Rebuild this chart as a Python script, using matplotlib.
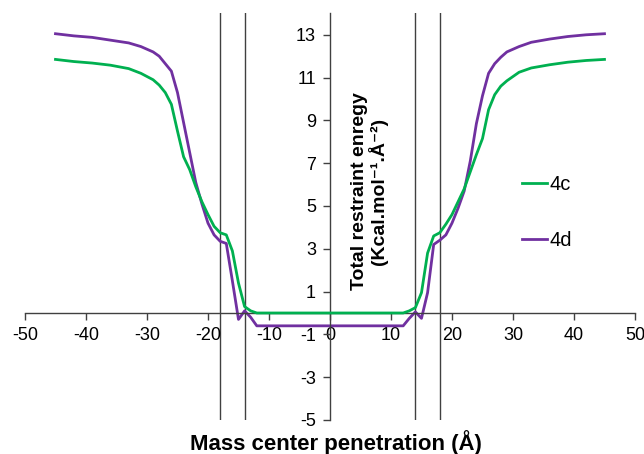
import matplotlib.pyplot as plt

plt.rcParams['font.family'] = ['Liberation Sans', 'DejaVu Sans']
plt.rcParams['axes.unicode_minus'] = False

# mass center penetration (A)
x = [-45, -42, -39, -36, -33, -31, -29, -28, -27, -26, -25, -24, -23, -22, -21,
     -20, -19, -18, -17, -16, -15, -14, -13, -12,
     12, 13, 14, 15, 16, 17, 18, 19, 20, 21, 22, 23, 24, 25, 26, 27, 28, 29,
     31, 33, 36, 39, 42, 45]

energy_4c = [11.85, 11.75, 11.68, 11.58, 11.42, 11.2, 10.9, 10.65, 10.3, 9.75, 8.5, 7.3, 6.7, 5.9, 5.2,
             4.6, 4.05, 3.75, 3.65, 2.9, 1.4, 0.3, 0.1, 0.0,
             0.0, 0.1, 0.25, 0.95, 2.8, 3.6, 3.75, 4.15, 4.6, 5.2, 5.8, 6.6, 7.4, 8.15, 9.5, 10.2, 10.6, 10.85,
             11.25, 11.45, 11.6, 11.72, 11.8, 11.85]

energy_4d = [13.05, 12.95, 12.88, 12.75, 12.62, 12.45, 12.2, 12.0, 11.65, 11.3, 10.3, 8.9, 7.5, 6.1, 5.1,
             4.2, 3.65, 3.35, 3.25, 1.5, -0.3, 0.1, -0.2, -0.6,
             -0.6, -0.25, 0.05, -0.25, 0.95, 3.2, 3.4, 3.65, 4.2, 4.9, 5.7, 7.1, 8.85, 10.15, 11.2, 11.65, 11.95, 12.2,
             12.45, 12.65, 12.8, 12.92, 13.0, 13.05]

boundaries = [-18, -14, 14, 18]
xticks = [-50, -40, -30, -20, -10, 0, 10, 20, 30, 40, 50]
yticks = [-5, -3, -1, 1, 3, 5, 7, 9, 11, 13]

fig = plt.figure(figsize=(6.44, 4.54), dpi=100)
ax = fig.add_axes([0.0388, 0.0749, 0.9472, 0.8956])

for b in boundaries:
    ax.axvline(b, color='#404040', lw=1.0, zorder=1)

ax.plot(x, energy_4c, color='#00B050', lw=2.0, label='4c', zorder=3)
ax.plot(x, energy_4d, color='#7030A0', lw=2.0, label='4d', zorder=2)

ax.set_xlim(-50, 50)
ax.set_ylim(-5, 14)
ax.spines['left'].set_position(('data', 0))
ax.spines['bottom'].set_position(('data', 0))
ax.spines['top'].set_visible(False)
ax.spines['right'].set_visible(False)
for s in ['left', 'bottom']:
    ax.spines[s].set_color('#404040')
    ax.spines[s].set_linewidth(1.0)

ax.set_xticks(xticks)
ax.set_yticks(yticks)
ax.tick_params(axis='both', direction='out', length=5, width=1, color='#404040',
               labelsize=13, pad=5)

# y label sits to the right of the y axis
ax.text(6.4, 5.7, 'Total restraint enregy\n(Kcal.mol⁻¹.Å⁻²)',
        rotation=90, ha='center', va='center',
        fontsize=14, fontweight='bold', linespacing=1.0, multialignment='center')

fig.text(336 / 644, 1 - 450 / 454, 'Mass center penetration (Å)',
         ha='center', va='baseline', fontsize=16, fontweight='bold')

ax.legend(loc='center left', bbox_to_anchor=(522 / 644, 1 - 212.5 / 454),
          bbox_transform=fig.transFigure, frameon=False, fontsize=14.5,
          handlelength=1.25, handletextpad=0.1, labelspacing=1.85,
          borderpad=0, borderaxespad=0)

plt.savefig('out.png', dpi=100)
